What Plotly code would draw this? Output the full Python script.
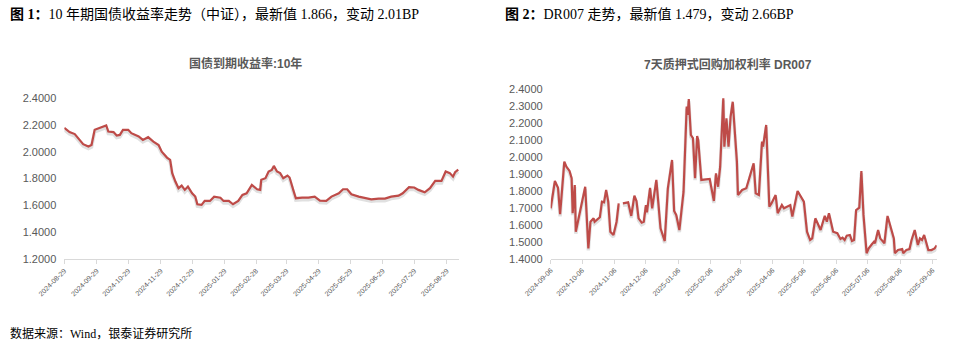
import plotly.graph_objects as go

W, H = 964, 351

# ---------------- data: chart 1 (10Y CGB yield) ----------------
cgb_dates = ["2024-08-29","2024-09-03","2024-09-08","2024-09-11","2024-09-16","2024-09-21","2024-09-24","2024-09-27",
             "2024-10-02","2024-10-08","2024-10-10","2024-10-15","2024-10-18","2024-10-21","2024-10-24","2024-10-29",
             "2024-11-01","2024-11-08","2024-11-12","2024-11-17","2024-11-22","2024-11-27","2024-11-30","2024-12-05",
             "2024-12-08","2024-12-10","2024-12-13","2024-12-16","2024-12-19","2024-12-22","2024-12-25","2024-12-29",
             "2025-01-01","2025-01-03","2025-01-07","2025-01-10","2025-01-15","2025-01-19","2025-01-25","2025-01-28",
             "2025-02-02","2025-02-06","2025-02-11","2025-02-15","2025-02-19","2025-02-24","2025-03-01","2025-03-04",
             "2025-03-05","2025-03-09","2025-03-12","2025-03-15","2025-03-17","2025-03-20","2025-03-23","2025-03-26",
             "2025-03-30","2025-04-01","2025-04-05","2025-04-07","2025-04-13","2025-04-19","2025-04-25","2025-04-30",
             "2025-05-06","2025-05-11","2025-05-18","2025-05-22","2025-05-26","2025-05-30","2025-06-06","2025-06-12",
             "2025-06-18","2025-06-25","2025-07-01","2025-07-07","2025-07-14","2025-07-18","2025-07-24","2025-07-29",
             "2025-08-02","2025-08-08","2025-08-13","2025-08-18","2025-08-24","2025-08-28","2025-09-01","2025-09-04",
             "2025-09-06","2025-09-09"]
cgb_values = [2.178,2.146,2.131,2.100,2.056,2.038,2.050,2.163,
              2.175,2.195,2.150,2.146,2.120,2.125,2.163,2.163,
              2.138,2.113,2.088,2.108,2.075,2.050,2.000,1.956,
              1.939,1.840,1.777,1.728,1.747,1.715,1.740,1.690,
              1.665,1.608,1.603,1.633,1.633,1.665,1.657,1.633,
              1.633,1.608,1.633,1.678,1.690,1.752,1.720,1.715,
              1.790,1.802,1.852,1.864,1.894,1.852,1.840,1.802,
              1.822,1.807,1.702,1.653,1.657,1.657,1.665,1.635,
              1.633,1.665,1.690,1.720,1.720,1.683,1.665,1.653,
              1.645,1.650,1.650,1.665,1.672,1.690,1.735,1.733,
              1.715,1.697,1.728,1.782,1.782,1.852,1.840,1.814,
              1.847,1.866]
cgb_ticks = ["2024-08-29","2024-09-29","2024-10-29","2024-11-29","2024-12-29","2025-01-29","2025-02-28",
             "2025-03-29","2025-04-29","2025-05-29","2025-06-29","2025-07-29","2025-08-29"]

# ---------------- data: chart 2 (DR007) ----------------
dr_dates = ["2024-09-06","2024-09-10","2024-09-13","2024-09-15","2024-09-19","2024-09-21","2024-09-24","2024-09-26",
            "2024-09-27","2024-09-29","2024-09-30","2024-10-09","2024-10-12","2024-10-14","2024-10-17","2024-10-18",
            "2024-10-23","2024-10-25","2024-10-27","2024-10-29","2024-10-31","2024-11-02","2024-11-05","2024-11-08",
            "2024-11-10","2024-11-12","2024-11-14","2024-11-19","2024-11-22","2024-11-25","2024-11-27","2024-11-29",
            "2024-12-02","2024-12-04","2024-12-06","2024-12-07","2024-12-10","2024-12-12","2024-12-16","2024-12-20",
            "2024-12-24","2024-12-27","2024-12-31","2025-01-02","2025-01-04","2025-01-07","2025-01-11","2025-01-14",
            "2025-01-15","2025-01-16","2025-01-18","2025-01-20","2025-01-22","2025-01-24","2025-01-25","2025-01-28",
            "2025-02-05","2025-02-09","2025-02-11","2025-02-13","2025-02-15","2025-02-18","2025-02-19","2025-02-21",
            "2025-02-23","2025-02-25","2025-02-27","2025-03-03","2025-03-04","2025-03-08","2025-03-12","2025-03-19",
            "2025-03-21","2025-03-24","2025-03-27","2025-03-28","2025-03-31","2025-04-02","2025-04-03","2025-04-05",
            "2025-04-09","2025-04-11","2025-04-15","2025-04-17","2025-04-21","2025-04-23","2025-04-25","2025-04-27",
            "2025-04-30","2025-05-06","2025-05-09","2025-05-12","2025-05-14","2025-05-17","2025-05-22","2025-05-26",
            "2025-05-28","2025-05-30","2025-06-03","2025-06-07","2025-06-10","2025-06-12","2025-06-14","2025-06-16",
            "2025-06-19","2025-06-21","2025-06-23","2025-06-25","2025-06-28","2025-06-30","2025-07-02","2025-07-05",
            "2025-07-07","2025-07-10","2025-07-12","2025-07-13","2025-07-16","2025-07-18","2025-07-22","2025-07-25",
            "2025-07-28","2025-07-31","2025-08-01","2025-08-04","2025-08-08","2025-08-09","2025-08-12","2025-08-15",
            "2025-08-17","2025-08-20","2025-08-23","2025-08-25","2025-08-27","2025-08-29","2025-09-02","2025-09-05",
            "2025-09-08","2025-09-10"]
dr_values = [1.697,1.858,1.818,1.662,1.972,1.942,1.917,1.874,
             1.668,1.834,1.559,1.824,1.461,1.618,1.638,1.618,
             1.644,1.736,1.732,1.805,1.736,1.559,1.540,1.618,
             1.726,None,1.726,1.732,1.652,1.771,1.740,1.638,
             1.612,1.618,1.716,1.673,1.818,1.697,1.864,1.579,
             1.504,1.815,1.982,1.681,1.658,1.569,1.795,2.296,
             2.247,2.341,2.129,2.110,1.874,2.123,2.100,1.864,
             1.870,1.740,1.903,1.824,1.942,2.345,2.060,2.227,
             2.060,2.237,2.325,1.972,1.775,1.805,1.815,1.962,
             1.785,1.775,2.090,2.060,2.188,1.844,1.707,1.726,
             1.775,1.668,1.716,1.697,1.707,1.716,1.648,1.716,
             1.799,1.736,1.559,1.510,1.520,1.638,1.569,1.653,
             1.618,1.668,1.559,1.550,1.516,1.524,1.510,1.536,
             1.540,1.504,1.510,1.687,1.701,1.917,1.658,1.432,
             1.461,1.485,1.500,1.491,1.569,1.520,1.491,1.652,
             1.589,1.520,1.432,1.451,1.457,1.432,1.451,1.457,
             1.510,1.569,1.481,1.520,1.510,1.540,1.451,1.451,
             1.461,1.479]
dr_ticks = ["2024-09-06","2024-10-06","2024-11-06","2024-12-06","2025-01-06","2025-02-06","2025-03-06",
            "2025-04-06","2025-05-06","2025-06-06","2025-07-06","2025-08-06","2025-09-06"]

assert len(cgb_dates) == len(cgb_values)
assert len(dr_dates) == len(dr_values)

# ---------------- texts ----------------
fig1_caption = "<b>图 1：</b>10 年期国债收益率走势（中证），最新值 1.866，变动 2.01BP"
fig2_caption = "<b>图 2：</b>DR007 走势，最新值 1.479，变动 2.66BP"
fig1_title = "国债到期收益率:10年"
fig2_title = "7天质押式回购加权利率 DR007"
source_text = "数据来源：Wind，银泰证券研究所"

LINE = "#BE4B48"
SHADOW = "rgba(0,0,0,0.12)"
GREY = "#595959"
AXIS = "#D9D9D9"
SERIF = "Liberation Serif, Noto Sans CJK SC, serif"
SANS = "Liberation Sans, Noto Sans CJK SC, sans-serif"
TITLE_FONT = "Liberation Sans, Noto Sans CJK SC, sans-serif"

# axis geometry (pixels in the 964x351 canvas)
L_X0, L_X1, L_YBOT, L_YTOP = 64.3, 459.3, 259.0, 98.0
R_X0, R_X1, R_YBOT, R_YTOP = 550.7, 936.7, 258.7, 89.0
L_RANGE = [1.2, 2.4]
R_RANGE = [1.4, 2.4]
L_XRANGE = ["2024-08-29", "2025-09-10"]
R_XRANGE = ["2024-09-06", "2025-09-10"]
SHADOW_DY = 2.0

def px_x(p):
    return p / W

def px_y(p):
    return 1 - p / H

fig = go.Figure()
# carrier traces (invisible ink) so the visible axes are drawn
fig.add_trace(go.Scatter(x=cgb_dates, y=cgb_values, mode="lines", line=dict(color="rgba(0,0,0,0)", width=0.1),
                         xaxis="x", yaxis="y", showlegend=False, hoverinfo="skip"))
fig.add_trace(go.Scatter(x=dr_dates, y=dr_values, mode="lines", line=dict(color="rgba(0,0,0,0)", width=0.1),
                         xaxis="x2", yaxis="y2", showlegend=False, hoverinfo="skip"))
# soft drop shadows: same data on hidden axes whose domain sits 2px lower
fig.add_trace(go.Scatter(x=cgb_dates, y=cgb_values, mode="lines", line=dict(color=SHADOW, width=3.5),
                         xaxis="x3", yaxis="y3", showlegend=False, hoverinfo="skip"))
fig.add_trace(go.Scatter(x=dr_dates, y=dr_values, mode="lines", connectgaps=False,
                         line=dict(color=SHADOW, width=3.5),
                         xaxis="x5", yaxis="y5", showlegend=False, hoverinfo="skip"))
# main lines on hidden axes identical to the visible ones
fig.add_trace(go.Scatter(x=cgb_dates, y=cgb_values, mode="lines",
                         line=dict(color=LINE, width=2.2), xaxis="x4", yaxis="y4",
                         showlegend=False, hoverinfo="x+y"))
fig.add_trace(go.Scatter(x=dr_dates, y=dr_values, mode="lines", connectgaps=False,
                         line=dict(color=LINE, width=2.2), xaxis="x6", yaxis="y6",
                         showlegend=False, hoverinfo="x+y"))

xcommon = dict(type="date", showgrid=False, zeroline=False, showline=True, linecolor=AXIS, linewidth=1,
               ticks="outside", ticklen=4, tickcolor=AXIS, tickangle=-45, automargin=False,
               tickfont=dict(family=SANS, size=7, color=GREY))
ycommon = dict(showgrid=False, zeroline=False, showline=False, ticks="", tickformat=".4f", automargin=False,
               tickfont=dict(family=SANS, size=11, color=GREY), ticklabelstandoff=7)
hidden = dict(visible=False, showgrid=False, zeroline=False, automargin=False, fixedrange=True)

fig.update_layout(
    width=W, height=H, autosize=False,
    margin=dict(l=0, r=0, t=0, b=0, pad=0, autoexpand=False),
    paper_bgcolor="white", plot_bgcolor="rgba(0,0,0,0)",
    # visible axes
    xaxis=dict(xcommon, domain=[px_x(L_X0), px_x(L_X1)], range=L_XRANGE,
               tickvals=cgb_ticks, ticktext=cgb_ticks, anchor="y"),
    yaxis=dict(ycommon, domain=[px_y(L_YBOT), px_y(L_YTOP)], range=L_RANGE, dtick=0.2, tick0=1.2, anchor="x"),
    xaxis2=dict(xcommon, domain=[px_x(R_X0), px_x(R_X1)], range=R_XRANGE,
                tickvals=dr_ticks, ticktext=dr_ticks, anchor="y2"),
    yaxis2=dict(ycommon, domain=[px_y(R_YBOT), px_y(R_YTOP)], range=R_RANGE, dtick=0.1, tick0=1.4, anchor="x2"),
    # shadow axes
    xaxis3=dict(hidden, type="date", domain=[px_x(L_X0), px_x(L_X1)], range=L_XRANGE, anchor="y3"),
    yaxis3=dict(hidden, domain=[px_y(L_YBOT + SHADOW_DY), px_y(L_YTOP + SHADOW_DY)], range=L_RANGE, anchor="x3"),
    xaxis5=dict(hidden, type="date", domain=[px_x(R_X0), px_x(R_X1)], range=R_XRANGE, anchor="y5"),
    yaxis5=dict(hidden, domain=[px_y(R_YBOT + SHADOW_DY), px_y(R_YTOP + SHADOW_DY)], range=R_RANGE, anchor="x5"),
    # main-line axes
    xaxis4=dict(hidden, type="date", domain=[px_x(L_X0), px_x(L_X1)], range=L_XRANGE, anchor="y4"),
    yaxis4=dict(hidden, domain=[px_y(L_YBOT), px_y(L_YTOP)], range=L_RANGE, anchor="x4"),
    xaxis6=dict(hidden, type="date", domain=[px_x(R_X0), px_x(R_X1)], range=R_XRANGE, anchor="y6"),
    yaxis6=dict(hidden, domain=[px_y(R_YBOT), px_y(R_YTOP)], range=R_RANGE, anchor="x6"),
    annotations=[
        dict(text=fig1_caption, x=px_x(8), y=px_y(14), xref="paper", yref="paper", xanchor="left",
             yanchor="middle", showarrow=False, font=dict(family=SERIF, size=14, color="#000000")),
        dict(text=fig2_caption, x=px_x(503), y=px_y(14), xref="paper", yref="paper", xanchor="left",
             yanchor="middle", showarrow=False, font=dict(family=SERIF, size=14, color="#000000")),
        dict(text="<b>" + fig1_title + "</b>", x=px_x(246), y=px_y(63), xref="paper", yref="paper",
             xanchor="center", yanchor="middle", showarrow=False,
             font=dict(family=TITLE_FONT, size=12, color=GREY)),
        dict(text="<b>" + fig2_title + "</b>", x=px_x(728), y=px_y(65), xref="paper", yref="paper",
             xanchor="center", yanchor="middle", showarrow=False,
             font=dict(family=TITLE_FONT, size=12, color=GREY)),
        dict(text=source_text, x=px_x(8), y=px_y(333), xref="paper", yref="paper", xanchor="left",
             yanchor="middle", showarrow=False, font=dict(family=SERIF, size=12, color="#000000")),
    ],
)

fig.write_html("out.html")
